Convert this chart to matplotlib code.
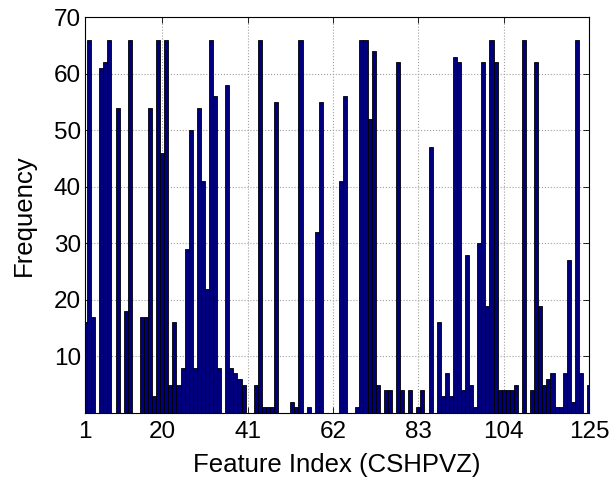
import numpy as np
import matplotlib
matplotlib.use('Agg')
from matplotlib import pyplot as plt

plt.rcParams['font.family'] = ['Liberation Sans', 'DejaVu Sans']

# 特征序号与频次
feature_index = np.arange(1, 126)
frequency = [16, 66, 17, 0, 61, 62, 66, 0, 54, 0,
             18, 66, 0, 0, 17, 17, 54, 3, 66, 46,
             66, 5, 16, 5, 8, 29, 50, 8, 54, 41,
             22, 66, 56, 8, 0, 58, 8, 7, 6, 5,
             0, 0, 5, 66, 1, 1, 1, 55, 0, 0,
             0, 2, 1, 66, 0, 1, 0, 32, 55, 0,
             0, 0, 0, 41, 56, 0, 0, 1, 66, 66,
             52, 64, 5, 0, 4, 4, 0, 62, 4, 0,
             4, 0, 1, 4, 0, 47, 0, 16, 3, 7,
             3, 63, 62, 4, 28, 5, 1, 30, 62, 19,
             66, 62, 4, 4, 4, 4, 5, 0, 66, 0,
             4, 62, 19, 5, 6, 7, 1, 1, 7, 27,
             2, 66, 7, 0, 5]
x_ticks = [1, 20, 41, 62, 83, 104, 125]
y_ticks = [10, 20, 30, 40, 50, 60, 70]

fig = plt.figure(figsize=(6.13, 4.87), dpi=100)
ax = fig.add_axes([0.1387, 0.152, 0.8223, 0.813])

ax.bar(feature_index, frequency, width=1.0, color='#00007f',
       edgecolor='black', linewidth=0.6, zorder=2)

ax.set_xlim(1, 125)
ax.set_ylim(0, 70)
ax.set_xticks(x_ticks)
ax.set_yticks(y_ticks)
ax.tick_params(direction='in', top=True, right=True, labelsize=17.5,
               length=4, width=0.6)
ax.tick_params(axis='x', pad=6)
ax.tick_params(axis='y', pad=3)
ax.grid(True, linestyle=':', color='#a0a0a0', linewidth=0.8, zorder=0)
ax.set_axisbelow(True)
for s in ax.spines.values():
    s.set_linewidth(0.8)

ax.set_xlabel('Feature Index (CSHPVZ)', fontsize=18.5, labelpad=7)
ax.set_ylabel('Frequency', fontsize=18.5, labelpad=13)

fig.savefig('out.png', dpi=100)
